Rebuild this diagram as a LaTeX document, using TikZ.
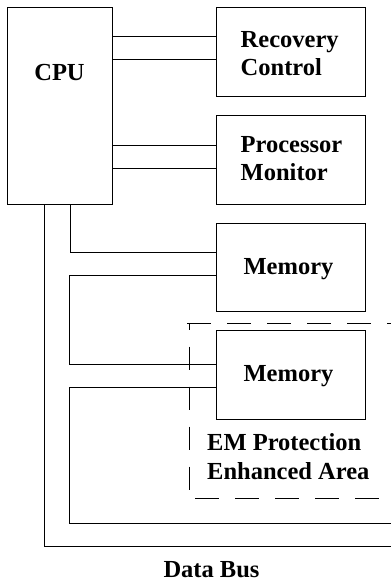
\documentclass[tikz,border=0pt]{standalone}
\usepackage{fontspec}
\setmainfont{Liberation Serif}
\begin{document}
\begin{tikzpicture}[x=1pt,y=-1pt,
  box/.style={draw=black,line width=0.9pt,inner sep=0pt},
  wire/.style={draw=black,line width=0.9pt},
  emline/.style={draw=black,line width=0.9pt,dash pattern=on 23.5pt off 16.5pt},
  txt/.style={inner sep=0pt,font=\fontsize{24.5}{27.3}\selectfont\bfseries,align=left},
  emtxt/.style={inner sep=0pt,font=\fontsize{24.5}{29.3}\selectfont\bfseries,align=left}]
\useasboundingbox (0,0) rectangle (391,582);
% boxes
\node[box,minimum width=105pt,minimum height=197pt] (cpu) at (59.5,105.5) {};
\node[box,minimum width=149pt,minimum height=89pt] (rc) at (290.5,51.5) {};
\node[box,minimum width=149pt,minimum height=89pt] (pm) at (290.5,159.5) {};
\node[box,minimum width=149pt,minimum height=88pt] (m1) at (290.5,267) {};
\node[box,minimum width=149pt,minimum height=89pt] (m2) at (290.5,374.5) {};
% texts (base = last line for multi-line nodes)
\node[txt,anchor=base] (cput) at (59.5,80) {CPU};
\node[txt,anchor=base west] (rct) at (240.5,75) {Recovery\\Control};
\node[txt,anchor=base west] (pmt) at (240.5,180) {Processor\\Monitor};
\node[txt,anchor=base] (m1t) at (288.5,274.5) {Memory};
\node[txt,anchor=base] (m2t) at (288.5,381.2) {Memory};
\node[emtxt,anchor=base west] (emt) at (207,479.5) {EM Protection\\Enhanced Area};
\node[txt,anchor=base] (dbt) at (211.5,577) {Data Bus};
% coordinates for free ends
\coordinate (e1) at (391,523);
\coordinate (e2) at (391,546);
% CPU to recovery / monitor
\draw[wire] (cpu.east |- 0,36) -- (rc.west |- 0,36);
\draw[wire] (cpu.east |- 0,59) -- (rc.west |- 0,59);
\draw[wire] (cpu.east |- 0,145) -- (pm.west |- 0,145);
\draw[wire] (cpu.east |- 0,168) -- (pm.west |- 0,168);
% memory chain
\draw[wire] (cpu.south -| 70,0) -- (70,252) -- (m1.west |- 0,252);
\draw[wire] (m1.west |- 0,275) -- (69,275) -- (69,364) -- (m2.west |- 0,364);
\draw[wire] (m2.west |- 0,387) -- (69,387) -- (69,523) -- (e1);
\draw[wire] (cpu.south -| 44,0) -- (44,546) -- (e2);
% EM protection area
\draw[emline] (187,323) -- (391,323);
\draw[emline,dash phase=16.5pt] (189,323) -- (189,498);
\draw[emline,dash phase=34pt] (189,498) -- (391,498);
\end{tikzpicture}
\end{document}
